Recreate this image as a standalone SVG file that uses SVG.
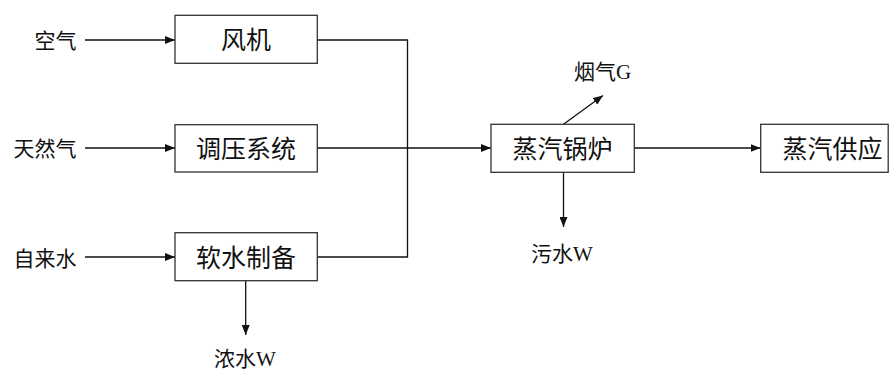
<svg xmlns="http://www.w3.org/2000/svg" width="891" height="370" viewBox="0 0 891 370">
<style>
.box{fill:#fff;stroke:#333;stroke-width:1.3}
.bl{font-family:"Noto Sans CJK SC","Noto Sans CJK JP",sans-serif;font-size:25px;fill:#111;text-anchor:middle}
.lb{font-family:"Liberation Serif","Noto Sans CJK SC",serif;font-size:21px;fill:#111}
.cn{font-family:"Noto Sans CJK SC","Noto Sans CJK JP",sans-serif}
.ln{fill:none;stroke:#111;stroke-width:1.3}
</style>
<defs>
<marker id="ah" viewBox="0 0 10 8" refX="10" refY="4" markerWidth="10" markerHeight="8" markerUnits="userSpaceOnUse" orient="auto">
<path d="M0,0 L10,4 L0,8 Z" fill="#111"/>
</marker>
</defs>
<rect width="891" height="370" fill="#fff"/>
<g id="connectors">
<line class="ln" x1="85" y1="40" x2="175" y2="40" marker-end="url(#ah)"/>
<line class="ln" x1="85" y1="148" x2="175" y2="148" marker-end="url(#ah)"/>
<line class="ln" x1="85" y1="257" x2="175" y2="257" marker-end="url(#ah)"/>
<polyline class="ln" points="317,40 407.5,40 407.5,257 317,257"/>
<line class="ln" x1="317" y1="148" x2="491" y2="148" marker-end="url(#ah)"/>
<line class="ln" x1="634" y1="148" x2="760.5" y2="148" marker-end="url(#ah)"/>
<line class="ln" x1="563.5" y1="124.3" x2="603" y2="95.5" marker-end="url(#ah)"/>
<line class="ln" x1="563.5" y1="172.3" x2="563.5" y2="227" marker-end="url(#ah)"/>
<line class="ln" x1="245.7" y1="280.7" x2="245.7" y2="335" marker-end="url(#ah)"/>
</g>
<g id="air"><text class="lb cn" x="76.5" y="48" text-anchor="end">空气</text></g>
<g id="gas"><text class="lb cn" x="76.5" y="156" text-anchor="end">天然气</text></g>
<g id="water"><text class="lb cn" x="76.5" y="266" text-anchor="end">自来水</text></g>
<g id="fan"><rect class="box" x="175" y="15.3" width="142.3" height="48"/><text class="bl" x="246" y="49">风机</text></g>
<g id="regulator"><rect class="box" x="175" y="124.7" width="142.3" height="47.3"/><text class="bl" x="246" y="157.5">调压系统</text></g>
<g id="softener"><rect class="box" x="175" y="232.7" width="142.3" height="48"/><text class="bl" x="246" y="266.5">软水制备</text></g>
<g id="boiler"><rect class="box" x="491" y="124.3" width="143.3" height="48"/><text class="bl" x="562.5" y="157.5">蒸汽锅炉</text></g>
<g id="supply"><rect class="box" x="760.7" y="124.3" width="127.5" height="48"/><text class="bl" x="832.5" y="157.5">蒸汽供应</text></g>
<g id="flue"><text class="lb" x="574" y="79"><tspan class="cn">烟气</tspan>G</text></g>
<g id="sewage"><text class="lb" x="531" y="261"><tspan class="cn">污水</tspan>W</text></g>
<g id="brine"><text class="lb" x="214" y="365.5"><tspan class="cn">浓水</tspan>W</text></g>
</svg>
